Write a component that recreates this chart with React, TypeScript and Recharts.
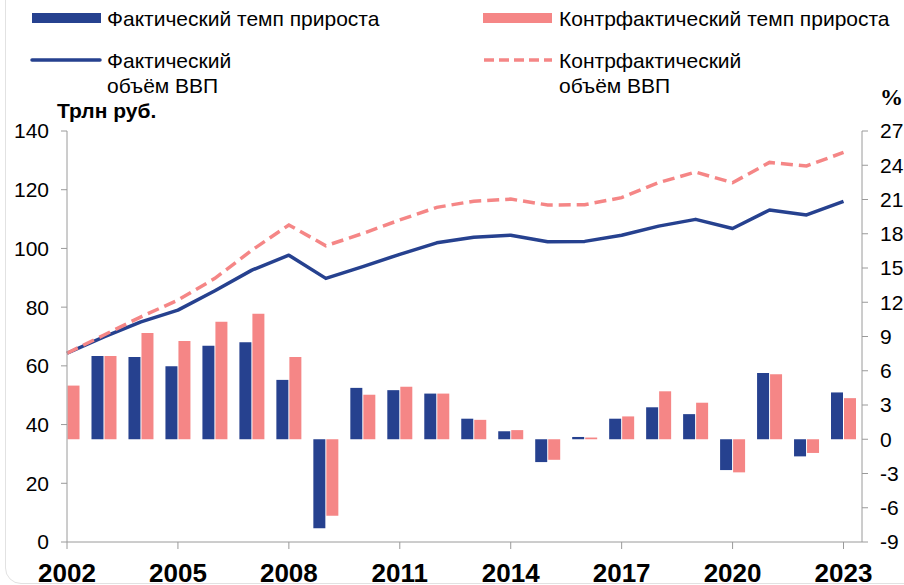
import { ComposedChart, Bar, Line, XAxis, YAxis } from "recharts";

const years = [2002, 2003, 2004, 2005, 2006, 2007, 2008, 2009, 2010, 2011, 2012, 2013, 2014, 2015, 2016, 2017, 2018, 2019, 2020, 2021, 2022, 2023];
// % growth, right axis (2002 actual bar is hidden behind the axis in the source)
const actualGrowth = [null, 7.3, 7.2, 6.4, 8.2, 8.5, 5.2, -7.8, 4.5, 4.3, 4.0, 1.8, 0.7, -2.0, 0.2, 1.8, 2.8, 2.2, -2.7, 5.8, -1.5, 4.1];
const counterGrowth = [4.7, 7.3, 9.3, 8.6, 10.3, 11.0, 7.2, -6.7, 3.9, 4.6, 4.0, 1.7, 0.8, -1.8, 0.15, 2.0, 4.2, 3.2, -2.9, 5.7, -1.2, 3.6];
// GDP, trln rub, left axis
const actualGdp = [64.3, 69.9, 75.0, 79.0, 85.6, 92.6, 97.7, 89.8, 93.8, 98.0, 101.9, 103.8, 104.5, 102.3, 102.4, 104.5, 107.6, 109.9, 106.8, 113.1, 111.4, 116.0];
const counterGdp = [64.3, 70.5, 76.7, 82.4, 89.8, 99.4, 108.0, 100.9, 105.1, 109.7, 114.0, 116.1, 116.8, 114.8, 114.9, 117.3, 122.4, 126.0, 122.4, 129.3, 128.1, 132.7];

const yearTicks = [2002, 2005, 2008, 2011, 2014, 2017, 2020, 2023];
const leftTicks = [0, 20, 40, 60, 80, 100, 120, 140];
const rightTicks = [-9, -6, -3, 0, 3, 6, 9, 12, 15, 18, 21, 24, 27];

const BLUE = "#26418F";
const PINK = "#F58686";
const AXIS = "#9a9a9a";
const FONT = "'Liberation Sans', Arial, sans-serif";

const data = years.map((year, i) => ({
    year,
    actualGrowth: actualGrowth[i],
    counterGrowth: counterGrowth[i],
    actualGdp: actualGdp[i],
    counterGdp: counterGdp[i],
}));

function LegendOverlay() {
    const txt = { fontFamily: FONT, fontSize: 21, fill: "#000" };
    return (
        <svg width={904} height={130} style={{ position: "absolute", left: 0, top: 0 }}>
            <rect x={32} y={13} width={69} height={10} fill={BLUE} />
            <text x={107} y={26} {...txt}>Фактический темп прироста</text>
            <rect x={483} y={13} width={69} height={10} fill={PINK} />
            <text x={559} y={26} {...txt}>Контрфактический темп прироста</text>

            <line x1={32} y1={60} x2={100} y2={60} stroke={BLUE} strokeWidth={3.5} strokeLinecap="round" />
            <text x={107} y={68} {...txt}>Фактический</text>
            <text x={107} y={93} {...txt}>объём ВВП</text>
            <line x1={484} y1={60} x2={552} y2={60} stroke={PINK} strokeWidth={3.5} strokeDasharray="10 5" />
            <text x={559} y={68} {...txt}>Контрфактический</text>
            <text x={559} y={93} {...txt}>объём ВВП</text>

            <text x={57} y={118} fontFamily={FONT} fontSize={21} fontWeight="bold">Трлн руб.</text>
            <text x={880} y={105} fontFamily="'Liberation Serif', serif" fontSize={23} fontWeight="bold">%</text>
        </svg>
    );
}

export default function App() {
    return (
        <div style={{ position: "fixed", left: 0, top: 0, width: 904, height: 585, overflow: "hidden", background: "#fff" }}>
            <div style={{ position: "absolute", left: 5, top: -30, width: 1000, height: 612, border: "1px solid #e2e2e2", borderRadius: 16 }} />
            <div style={{ position: "absolute", left: 0, top: 0 }}>
                <ComposedChart width={904} height={585} data={data} barSize={12} barGap={1}
                    margin={{ top: 131, right: 0, bottom: 0, left: 0 }}>
                    <XAxis dataKey="year" type="number" domain={[2002, 2023.5]} ticks={yearTicks} interval={0}
                        height={43} tickSize={7} tickMargin={15} stroke={AXIS}
                        tick={{ fill: "#000", fontSize: 26, fontWeight: "bold", fontFamily: FONT }} />
                    <YAxis yAxisId="left" domain={[0, 140]} ticks={leftTicks} width={67} tickSize={6} tickMargin={12}
                        stroke={AXIS} tick={{ fill: "#000", fontSize: 21, fontFamily: FONT }} />
                    <YAxis yAxisId="right" orientation="right" domain={[-9, 27]} ticks={rightTicks} width={42}
                        tickSize={6} tickMargin={12} stroke={AXIS} tick={{ fill: "#000", fontSize: 21, fontFamily: FONT }} />
                    <Bar yAxisId="right" dataKey="actualGrowth" fill={BLUE} isAnimationActive={false} />
                    <Bar yAxisId="right" dataKey="counterGrowth" fill={PINK} isAnimationActive={false} />
                    <Line yAxisId="left" dataKey="actualGdp" type="linear" stroke={BLUE} strokeWidth={3.5}
                        dot={false} strokeLinejoin="round" isAnimationActive={false} />
                    <Line yAxisId="left" dataKey="counterGdp" type="linear" stroke={PINK} strokeWidth={3.5}
                        strokeDasharray="12 6" dot={false} isAnimationActive={false} />
                </ComposedChart>
            </div>
            <LegendOverlay />
        </div>
    );
}
